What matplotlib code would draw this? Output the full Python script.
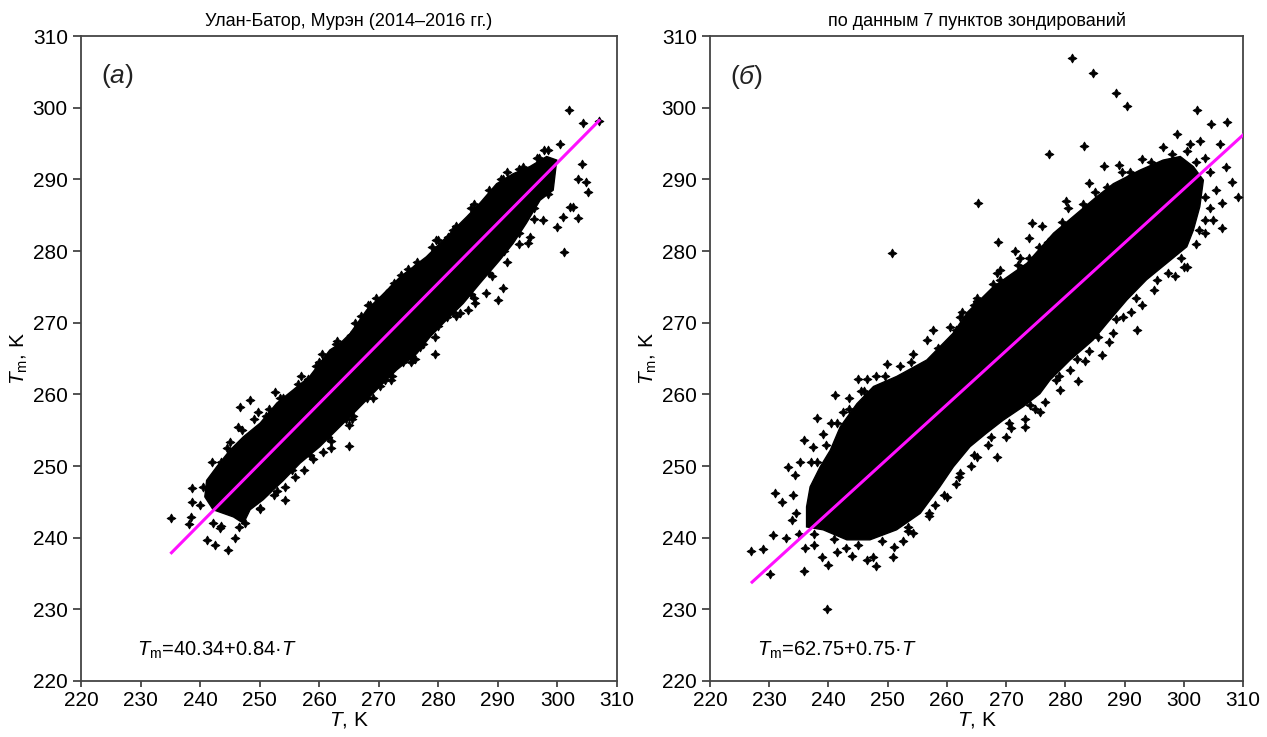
import numpy as np
import matplotlib
matplotlib.use("Agg")
import matplotlib.pyplot as plt

plt.rcParams['font.family'] = ['Liberation Sans', 'DejaVu Sans']
plt.rcParams['mathtext.fontset'] = 'custom'
plt.rcParams['mathtext.rm'] = 'Liberation Sans'
plt.rcParams['mathtext.it'] = 'Liberation Sans:italic'

ticks = [220, 230, 240, 250, 260, 270, 280, 290, 300, 310]
titles = ['Улан-Батор, Мурэн (2014–2016 гг.)', 'по данным 7 пунктов зондирований']
panel_letters = ['а', 'б']
equations = ['40.34+0.84', '62.75+0.75']

# regression line end points
line_a_T = [235.2, 307.0]
line_a_Tm = [237.9, 298.2]
line_b_T = [227.1, 310.0]
line_b_Tm = [233.8, 296.2]

# outline of the dense part of the cloud (upper edge then lower edge back)
core_a_T = [240.8, 241.1, 242.8, 245.0, 247.3, 250.1, 252.9, 255.6, 258.4, 261.8, 263.5,
            265.2, 268.0, 270.5, 273.6, 278.0, 281.4, 284.8, 287.0, 289.8, 292.6, 295.4,
            298.2, 299.9, 299.3, 297.1, 294.8, 292.6, 290.3, 287.0, 284.2, 281.4, 278.6,
            276.4, 273.0, 269.6, 266.3, 262.9, 260.1, 256.8, 254.0, 250.6, 248.4, 247.3,
            245.6, 242.2]
core_a_Tm = [245.7, 248.0, 249.9, 252.2, 254.1, 256.0, 258.8, 260.6, 262.5, 266.2, 267.1,
             268.5, 271.8, 273.8, 276.4, 279.2, 282.0, 284.8, 286.7, 289.4, 290.8, 291.8,
             293.2, 292.7, 288.5, 287.1, 283.9, 281.1, 278.7, 275.5, 272.7, 270.4, 268.0,
             265.7, 263.4, 260.6, 257.8, 255.0, 252.7, 250.4, 248.0, 245.3, 243.9, 242.0,
             242.9, 243.9]

core_b_T = [236.3, 236.3, 236.9, 238.6, 240.3, 242.0, 244.8, 247.6, 251.5, 256.6, 261.0,
            263.5, 267.8, 273.5, 278.0, 281.3, 285.3, 288.1, 292.6, 296.5, 299.4, 301.6,
            303.3, 302.7, 301.6, 300.5, 297.1, 293.7, 290.4, 287.0, 284.7, 280.8, 277.4,
            275.7, 272.9, 269.5, 266.7, 263.9, 261.1, 258.8, 255.5, 251.5, 247.0, 243.1,
            239.1]
core_b_Tm = [241.5, 244.3, 247.1, 249.9, 252.2, 255.5, 258.7, 261.1, 262.5, 264.8, 268.5,
             271.5, 275.0, 278.3, 282.5, 284.8, 287.6, 289.4, 291.3, 292.7, 293.2, 291.8,
             289.9, 286.2, 282.9, 280.6, 278.3, 276.0, 273.2, 269.9, 267.6, 264.8, 262.0,
             260.1, 258.3, 256.4, 254.6, 252.7, 249.9, 247.1, 243.4, 241.1, 239.7, 239.7,
             241.1]

# single points around the dense part
pts_a_T = [302.0, 304.3, 307.0, 300.4, 297.8, 298.4, 304.1, 303.5, 304.8, 305.2, 302.7,
           302.1, 303.5, 301.0, 299.9, 301.1, 297.6, 295.4, 295.0, 290.9, 290.1, 288.1,
           286.2, 285.0, 283.6, 281.4, 279.4, 276.9, 275.8, 279.7, 281.7, 276.6, 273.8,
           271.9, 268.5, 294.3, 290.9, 235.2, 238.4, 238.2, 238.6, 238.7, 240.5, 241.2,
           242.5, 244.7, 243.3, 243.6, 242.2, 245.9, 246.7, 248.4, 249.8, 246.4, 245.0,
           252.6, 258.2, 260.4, 262.9, 265.4, 268.2, 271.6, 254.3, 254.3, 260.7, 265.0,
           265.0, 265.7, 270.2, 272.2, 276.1, 250.1, 249.5, 240.0, 241.5, 243.5, 244.0,
           246.0, 246.5, 248.0, 251.0, 254.0, 256.5, 259.5, 262.0, 257.5, 252.5, 266.0,
           270.0, 275.0, 279.0, 283.0, 286.0, 288.5, 291.5, 296.5, 298.5, 296.0, 293.5,
           291.0, 288.5, 285.5, 282.5, 280.0, 277.5, 274.0, 271.0, 268.0, 264.5, 261.5,
           258.5, 255.5,
           242.0, 244.5, 247.0, 249.0, 251.5, 253.5, 257.0, 260.0, 263.0, 267.0, 269.5,
           272.5, 276.5, 280.0, 282.5, 285.5, 290.5, 293.5, 297.0,
           298.5, 296.0, 293.5, 291.5, 289.0, 286.0, 283.0, 279.5, 275.5, 272.0, 269.0,
           265.5, 262.0, 259.0, 256.0, 253.0, 250.0, 247.5]
pts_a_Tm = [299.7, 297.9, 298.2, 295.0, 294.1, 294.1, 292.2, 290.1, 289.7, 288.3, 286.2,
            286.2, 284.6, 284.8, 283.4, 279.9, 284.3, 282.0, 281.1, 274.8, 273.2, 274.2,
            272.7, 271.8, 271.3, 270.8, 265.6, 266.6, 265.0, 281.5, 282.0, 278.0, 276.6,
            274.6, 272.5, 291.8, 290.1, 242.7, 242.9, 241.9, 245.0, 246.9, 247.1, 239.7,
            239.0, 238.3, 241.3, 241.6, 242.1, 239.9, 258.3, 259.2, 257.6, 255.5, 253.4,
            260.4, 262.2, 265.7, 267.1, 268.3, 272.5, 274.1, 245.3, 247.1, 252.0, 252.8,
            255.7, 257.0, 261.1, 262.5, 265.0, 244.1, 249.0, 244.5, 246.0, 250.5, 245.0,
            243.5, 241.5, 250.0, 257.0, 259.5, 261.5, 264.0, 252.5, 249.5, 246.0, 270.0,
            273.0, 277.5, 280.5, 283.5, 286.5, 288.5, 291.0, 293.0, 291.0, 286.0, 282.5,
            280.0, 277.0, 274.0, 271.5, 269.5, 267.0, 264.5, 262.0, 259.5, 256.5, 254.0,
            251.5, 249.5,
            250.5, 252.5, 255.0, 256.5, 258.0, 259.5, 262.5, 264.5, 267.5, 271.0, 273.5,
            275.5, 278.5, 281.5, 283.0, 286.0, 290.0, 291.5, 293.0,
            288.0, 284.5, 281.0, 278.5, 276.5, 273.5, 271.0, 268.0, 264.5, 262.0, 259.5,
            256.5, 253.5, 251.0, 248.5, 246.5, 244.0, 242.0]

pts_b_T = [281.2, 284.6, 288.5, 290.4, 302.2, 304.6, 307.3, 277.3, 283.2, 298.8, 301.1,
           302.7, 306.1, 307.2, 308.1, 309.1, 306.4, 305.0, 306.5, 303.6, 300.5, 300.0,
           297.4, 292.9, 292.1, 289.8, 287.3, 286.1, 283.3, 280.8, 282.2, 279.1, 275.7,
           265.3, 250.8, 274.3, 268.7, 273.8, 272.3, 273.8, 268.9, 267.7, 265.0, 280.1,
           277.1, 286.6, 289.0, 290.9, 285.0, 239.8, 227.0, 228.9, 230.2, 230.7, 231.0,
           232.1, 233.2, 234.4, 235.8, 235.8, 232.9, 233.8, 238.0, 237.4, 240.0, 238.9,
           241.1, 245.0, 246.5, 249.8, 254.3, 256.6, 257.7, 260.5, 262.2, 246.5, 248.1,
           247.6, 251.0, 250.9, 254.3, 256.9, 260.0, 262.2, 265.0, 268.4, 270.9, 273.1,
           273.1, 274.9, 234.5, 235.0, 236.0, 237.5, 234.0, 235.2, 237.0, 239.0, 240.5,
           242.5, 243.5, 245.5, 248.0, 252.0, 241.5, 244.0, 243.0, 252.5, 253.5, 258.0,
           261.5, 264.0, 267.0, 270.0, 276.5, 279.0, 284.0, 288.0, 291.0, 295.0, 298.5,
           302.0, 303.5, 304.5, 305.5, 304.5, 303.5, 300.5, 296.5, 293.0, 289.5, 284.0,
           280.5, 276.0, 271.5, 268.5, 264.5, 262.5,
           238.0, 239.5, 241.5, 243.5, 246.0, 249.5, 254.0, 258.5, 261.5, 265.0, 269.0,
           272.0, 275.5, 279.5, 283.0, 287.0, 291.0, 294.5, 298.0, 302.0,
           303.5, 302.5, 299.5, 295.5, 292.0, 288.5, 285.5, 282.0, 278.5, 274.0, 270.5,
           267.5, 264.5, 262.0, 259.5, 257.0, 253.5, 249.0, 245.0, 241.0, 237.5]
pts_b_Tm = [306.9, 304.8, 302.0, 300.2, 299.7, 297.7, 298.0, 293.6, 294.6, 296.4, 295.0,
            295.3, 295.0, 291.8, 289.7, 287.5, 286.7, 284.3, 283.2, 284.3, 277.8, 277.8,
            276.9, 272.5, 269.0, 270.8, 267.3, 265.5, 264.6, 263.4, 261.8, 260.6, 257.6,
            286.7, 279.8, 283.9, 281.2, 281.8, 279.0, 279.0, 277.4, 275.4, 273.4, 287.0,
            281.3, 291.9, 292.0, 291.1, 288.3, 230.0, 238.2, 238.4, 235.0, 240.4, 246.2,
            245.0, 249.9, 248.7, 253.6, 235.3, 239.9, 242.5, 256.7, 252.7, 236.2, 237.3,
            259.9, 262.2, 262.2, 264.3, 265.7, 267.6, 269.0, 269.4, 270.8, 236.9, 236.0,
            237.3, 238.7, 237.3, 240.6, 243.4, 245.7, 249.0, 251.3, 251.3, 255.3, 255.5,
            256.6, 258.0, 243.5, 240.5, 238.5, 239.0, 246.0, 250.5, 250.5, 254.5, 256.0,
            257.5, 259.5, 260.5, 262.5, 264.0, 238.0, 237.5, 238.5, 239.5, 241.5, 244.5,
            247.5, 250.0, 253.0, 254.0, 259.0, 262.5, 266.0, 268.5, 271.5, 274.5, 276.5,
            281.0, 282.5, 286.0, 288.5, 291.0, 293.0, 294.0, 294.5, 292.8, 291.0, 289.5,
            286.0, 283.5, 280.0, 277.0, 272.5, 271.5,
            250.5, 253.0, 256.0, 258.0, 260.5, 262.5, 264.5, 266.5, 269.0, 273.0, 276.0,
            278.0, 280.5, 284.0, 286.5, 289.0, 290.5, 292.5, 293.5, 292.5,
            287.5, 283.0, 279.0, 276.0, 273.5, 270.5, 268.0, 265.0, 262.0, 258.5, 256.0,
            254.0, 251.5, 248.5, 246.0, 243.0, 241.0, 239.5, 239.0, 239.8, 240.5]

fig = plt.figure(figsize=(12.67, 7.37), dpi=100)
ax_a = fig.add_axes([0.0639, 0.076, 0.423, 0.875])
ax_b = fig.add_axes([0.5604, 0.076, 0.4207, 0.875])

panels = [
    (ax_a, core_a_T, core_a_Tm, pts_a_T, pts_a_Tm, line_a_T, line_a_Tm, 0.104),
    (ax_b, core_b_T, core_b_Tm, pts_b_T, pts_b_Tm, line_b_T, line_b_Tm, 0.088),
]

for i, (ax, cT, cTm, pT, pTm, lT, lTm, eq_x) in enumerate(panels):
    ax.fill(cT, cTm, color='black', lw=1.0, zorder=2)
    ax.plot(pT, pTm, marker=(4, 1, 0), ls='none', color='black', ms=6.5, mew=0.6, zorder=3)
    ax.plot(lT, lTm, '-', color='#ff10ff', lw=2.2, zorder=4)

    ax.set_xlim(220, 310)
    ax.set_ylim(220, 310)
    ax.set_xticks(ticks)
    ax.set_yticks(ticks)
    ax.tick_params(axis='both', labelsize=15, colors='#444444', labelcolor='black')
    ax.tick_params(axis='x', direction='out', length=4, width=1.3)
    ax.tick_params(axis='y', direction='out', length=6, width=1.3)
    for sp in ax.spines.values():
        sp.set_color('#444444')
        sp.set_linewidth(1.3)

    ax.set_title(titles[i], fontsize=13, pad=7)
    ax.set_xlabel('$T$, K', fontsize=15, labelpad=0)
    ax.set_ylabel(r'$T_{\mathrm{m}}$, K', fontsize=15, labelpad=2)

    ax.text(0.037, 0.938, '(' + '$' + panel_letters[i] + '$' + ')', transform=ax.transAxes,
            fontsize=19, va='center', ha='left', color='#222222',
            family=['Liberation Sans', 'DejaVu Sans'])
    ax.text(eq_x, 0.047, r'$T_{\mathrm{m}}$=' + equations[i] + '·$T$', transform=ax.transAxes,
            fontsize=14.5, va='center', ha='left')

fig.savefig('out.png', dpi=100)
